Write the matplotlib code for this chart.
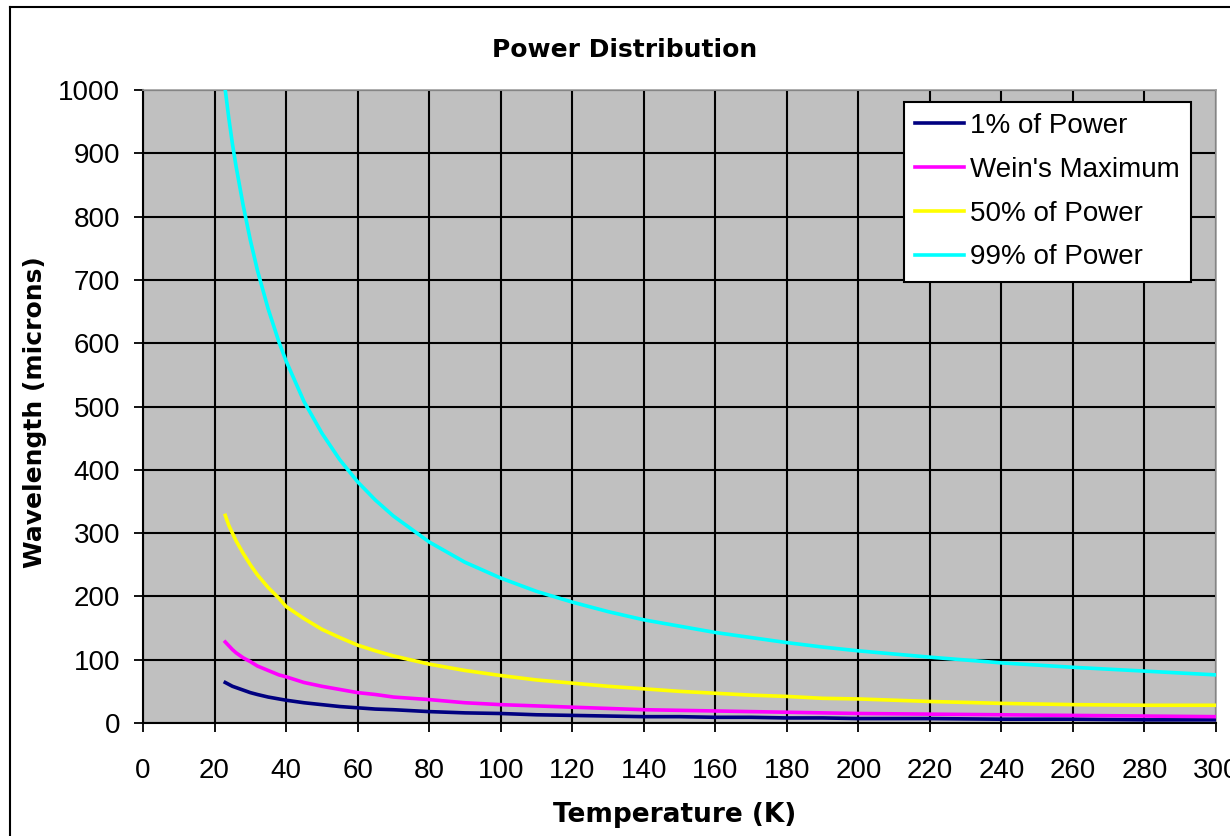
import matplotlib as mpl
mpl.use("Agg")
import matplotlib.pyplot as plt
from matplotlib.lines import Line2D

mpl.rcParams["font.family"] = ["Liberation Sans", "DejaVu Sans"]

# temperature (K) and wavelength (microns)
temp = [23, 24, 25, 26, 28, 30, 32, 35, 38, 40, 45, 50, 55, 60, 65, 70, 80, 90, 100,
        110, 120, 130, 140, 150, 160, 170, 180, 190, 200, 220, 240, 260, 280, 300]
p01 = [64, 61, 58, 56, 52, 48, 45, 41, 38, 36, 32, 29, 26, 24, 22, 21, 18, 16, 15,
       13, 12, 11, 10, 10, 9, 9, 8, 8, 7, 7, 6, 6, 5, 5]
wien = [128, 122, 116, 111, 103, 97, 90, 83, 76, 73, 64, 58, 53, 48, 45, 41, 37, 32, 29,
        27, 25, 23, 21, 20, 19, 18, 17, 16, 15, 14, 13, 12, 11, 10]
p50 = [328, 312, 300, 288, 268, 250, 234, 214, 197, 184, 165, 148, 135, 123, 114, 106, 93, 83, 75,
       68, 63, 58, 54, 50, 47, 44, 42, 39, 38, 34, 31, 29, 28, 28]
p99 = [1000, 955, 915, 880, 818, 763, 715, 654, 602, 572, 508, 458, 416, 381, 352, 327, 286, 254, 229,
       208, 191, 176, 163, 153, 143, 135, 127, 120, 114, 104, 95, 88, 82, 76]

labels = ["1% of Power", "Wein's Maximum", "50% of Power", "99% of Power"]
colors = ["#000080", "#FF00FF", "#FFFF00", "#00FFFF"]

fig = plt.figure(figsize=(12.3, 8.36), dpi=100)
ax = fig.add_axes([143/1230, 1-723/836, 1073/1230, 633/836])
ax.set_facecolor("#C0C0C0")

for ys, lab, c in zip([p01, wien, p50, p99], labels, colors):
    ax.plot(temp, ys, color=c, lw=2.6, label=lab, zorder=3)

ax.set_xlim(0, 300); ax.set_ylim(0, 1000)
ax.set_xticks(range(0, 301, 20)); ax.set_yticks(range(0, 1001, 100))
ax.grid(True, color="black", lw=1.5, zorder=1)
ax.set_axisbelow(True)
ax.tick_params(axis="both", direction="out", length=6.5, width=1.3, labelsize=20, color="black")
ax.tick_params(axis="x", pad=19)
ax.tick_params(axis="y", pad=10)
for s in ["left", "bottom"]:
    ax.spines[s].set_color("black"); ax.spines[s].set_linewidth(1.5)
for s in ["top", "right"]:
    ax.spines[s].set_color("#A0A0A0"); ax.spines[s].set_linewidth(1.2)

leg = ax.legend(loc="upper right", bbox_to_anchor=(0.977, 0.981), borderaxespad=0,
                fancybox=False, framealpha=1, edgecolor="black", fontsize=20,
                handlelength=1.75, handletextpad=0.25, labelspacing=0.64,
                borderpad=0.4)
leg.get_frame().set_linewidth(1.5)

bold = dict(family="DejaVu Sans", fontweight="bold", ha="center", va="center")
fig.text(0.508, 1-50/836, "Power Distribution", fontsize=18, **bold)
fig.text(675/1230, 1-815/836, "Temperature (K)", fontsize=19, **bold)
fig.text(35/1230, 1-412/836, "Wavelength (microns)", rotation=90, fontsize=18, **bold)

# outer chart border (cropped on right/bottom)
fig.add_artist(Line2D([10/1230, 10/1230], [0, 1-7/836], color="black", lw=1.5))
fig.add_artist(Line2D([10/1230, 1], [1-7/836, 1-7/836], color="black", lw=1.5))

fig.savefig("out.png", dpi=100)
